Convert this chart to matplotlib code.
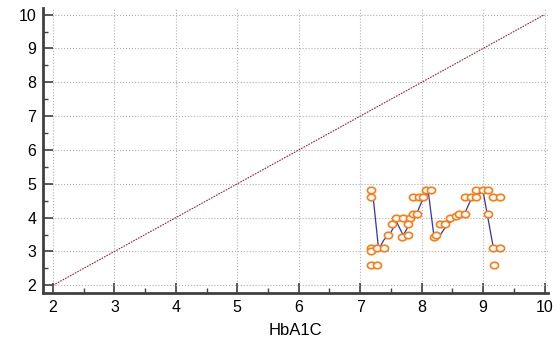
import matplotlib
matplotlib.use("Agg")
import matplotlib.pyplot as plt
import numpy as np
from matplotlib.ticker import MultipleLocator
from matplotlib.path import Path

plt.rcParams['font.family'] = ['Liberation Sans', 'DejaVu Sans']

# identity line
ref_x = [2, 10]
ref_y = [2, 10]

# trend line (blue)
line_x = [7.20, 7.30, 7.38, 7.49, 7.59, 7.70, 7.81, 7.92, 8.00, 8.11, 8.20, 8.30,
          8.41, 8.57, 8.70, 8.81, 9.00, 9.17, 9.30]
line_y = [4.80, 3.05, 3.33, 3.53, 3.88, 3.48, 3.83, 4.12, 4.47, 4.74, 3.45, 3.48,
          3.78, 4.02, 4.12, 4.57, 4.77, 3.08, 3.11]

# observations (orange circles)
pts_x = [7.17, 7.17, 7.17, 7.17, 7.28, 7.38, 7.17, 7.28, 7.46, 7.51, 7.59, 7.70,
         7.81, 7.68, 7.78, 7.78, 7.86, 7.92, 7.86, 7.95, 8.03, 8.07, 8.16, 8.20,
         8.23, 8.30, 8.38, 8.46, 8.56, 8.60, 8.70, 8.70, 8.81, 8.89, 8.89, 9.00,
         9.08, 9.16, 9.27, 9.08, 9.16, 9.27, 9.17]
pts_y = [4.82, 4.60, 3.11, 3.00, 3.11, 3.11, 2.61, 2.61, 3.48, 3.80, 4.00, 4.00,
         4.00, 3.43, 3.48, 3.80, 4.10, 4.10, 4.62, 4.62, 4.62, 4.82, 4.82, 3.43,
         3.50, 3.80, 3.80, 4.00, 4.05, 4.12, 4.12, 4.62, 4.62, 4.62, 4.82, 4.82,
         4.82, 4.62, 4.62, 4.12, 3.11, 3.11, 2.61]

t = np.linspace(0, 2 * np.pi, 41)
ellipse = Path(np.column_stack([1.25 * np.cos(t), np.sin(t)]), closed=True)

fig = plt.figure(figsize=(5.6, 3.42), dpi=100)
ax = fig.add_axes([0.077, 0.143, 0.902, 0.834])

ax.plot(ref_x, ref_y, color='#9B2335', lw=0.8, ls=(0, (1.5, 1)))
ax.plot(line_x, line_y, color='#3333B0', lw=0.9, zorder=3)
ax.scatter(pts_x, pts_y, s=34, marker=ellipse, facecolors='white', edgecolors='#FF7A10',
           linewidths=1.2, zorder=4)

ax.set_xlim(1.84, 10.06)
ax.set_ylim(1.77, 10.2)
ax.xaxis.set_major_locator(MultipleLocator(1))
ax.yaxis.set_major_locator(MultipleLocator(1))
ax.xaxis.set_minor_locator(MultipleLocator(0.5))
ax.yaxis.set_minor_locator(MultipleLocator(0.5))
ax.tick_params(which='major', direction='in', length=7, width=1.2, color='#404040',
               labelsize=11.5, pad=5)
ax.tick_params(which='minor', direction='in', length=3.5, width=1.0, color='#404040')
ax.grid(True, which='major', color='#b0b0b0', ls=':', lw=0.8)
for s in ['top', 'right']:
    ax.spines[s].set_visible(False)
for s in ['left', 'bottom']:
    ax.spines[s].set_linewidth(2)
    ax.spines[s].set_color('#404040')
ax.set_xlabel('HbA1C', fontsize=12, labelpad=6)

fig.savefig('out.png', dpi=100)
